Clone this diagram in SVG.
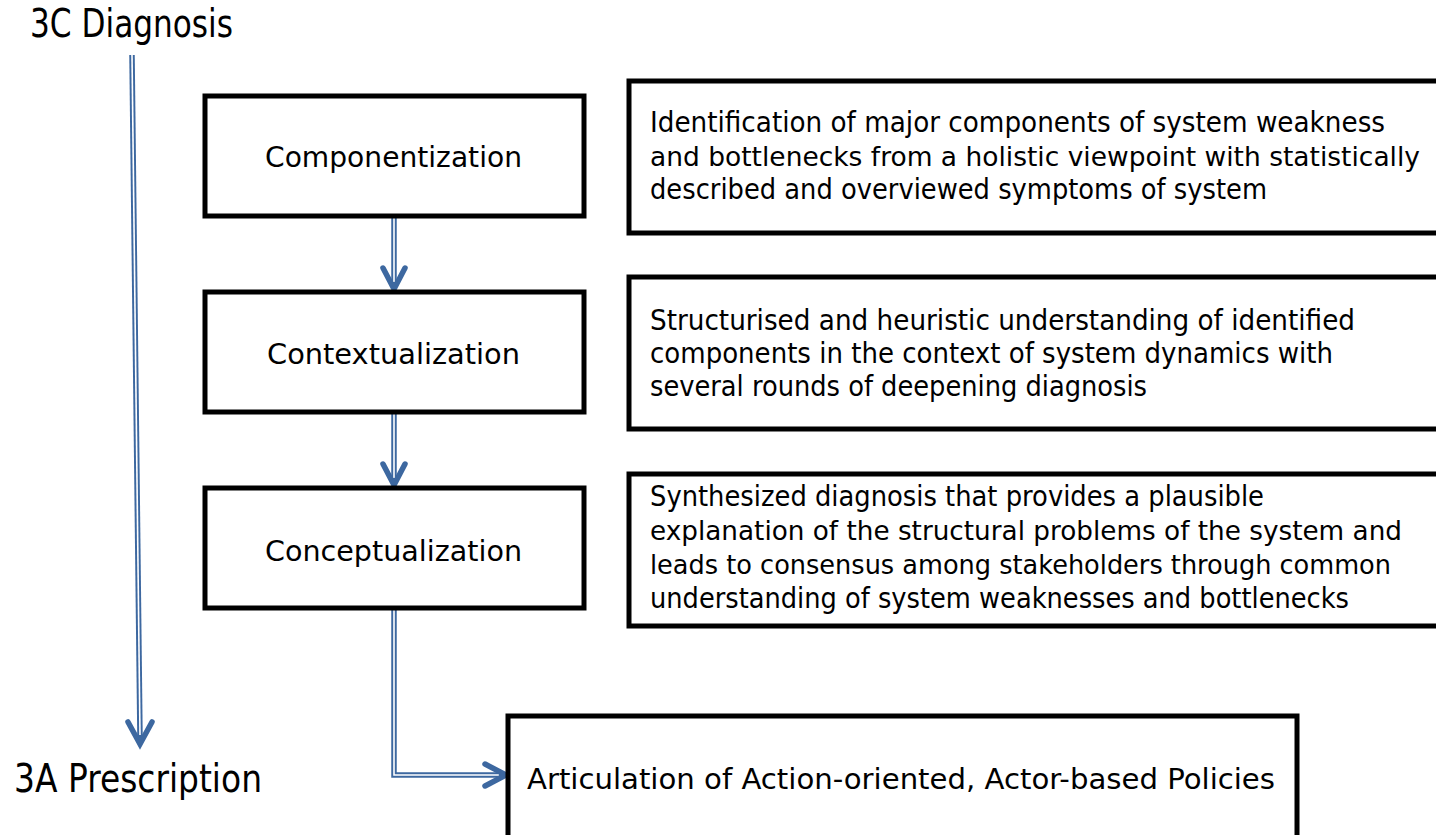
<svg xmlns="http://www.w3.org/2000/svg" width="1436" height="835" viewBox="0 0 1436 835">
<style>
.box{fill:#fff;stroke:#000;stroke-width:5}
.t{font-family:"DejaVu Sans","Liberation Sans",sans-serif;font-size:27.5px;fill:#000}
.d{font-family:"DejaVu Sans","Liberation Sans",sans-serif;font-size:26.5px;fill:#000}
.big{font-family:"DejaVu Sans","Liberation Sans",sans-serif;font-size:39px;fill:#000}
.shaft{fill:none;stroke:#3d68a0;stroke-width:5.5}
.inner{fill:none;stroke:#fff;stroke-width:1.6}
.head{fill:none;stroke:#3d68a0;stroke-width:5.5;stroke-linejoin:miter;stroke-linecap:round}
</style>
<rect width="1436" height="835" fill="#fff"/>
<g id="label-3c"><text class="big" x="30" y="37" textLength="203" lengthAdjust="spacingAndGlyphs">3C Diagnosis</text></g>
<g id="label-3a"><text class="big" x="14" y="792" textLength="248" lengthAdjust="spacingAndGlyphs">3A Prescription</text></g>

<g id="connectors">
  <path class="shaft" d="M132,55 L140,738"/>
  <path class="inner" d="M132,55 L140,735"/>
  <polyline class="head" points="128,722 140,744 152,722"/>

  <path class="shaft" d="M394,218 L394,286"/>
  <path class="inner" d="M394,218 L394,282"/>
  <polyline class="head" points="383,268 394,289 405,268"/>

  <path class="shaft" d="M394,414 L394,482"/>
  <path class="inner" d="M394,414 L394,478"/>
  <polyline class="head" points="383,464 394,485 405,464"/>

  <path class="shaft" d="M394,610 L394,775 L503,775"/>
  <path class="inner" d="M394,610 L394,775 L499,775"/>
  <polyline class="head" points="485,764 506,775 485,786"/>
</g>

<g id="componentization">
  <rect class="box" x="205" y="96" width="379" height="120"/>
  <text class="t" x="265" y="167" textLength="257" lengthAdjust="spacingAndGlyphs">Componentization</text>
</g>
<g id="contextualization">
  <rect class="box" x="205" y="292" width="379" height="120"/>
  <text class="t" x="267" y="364" textLength="253" lengthAdjust="spacingAndGlyphs">Contextualization</text>
</g>
<g id="conceptualization">
  <rect class="box" x="205" y="488" width="379" height="120"/>
  <text class="t" x="265" y="561" textLength="257" lengthAdjust="spacingAndGlyphs">Conceptualization</text>
</g>

<g id="desc-componentization">
  <rect class="box" x="629" y="81" width="810" height="152"/>
  <text class="t" x="650" y="132" textLength="735" lengthAdjust="spacingAndGlyphs">Identification of major components of system weakness</text>
  <text class="d" x="650" y="166" textLength="770" lengthAdjust="spacingAndGlyphs">and bottlenecks from a holistic viewpoint with statistically</text>
  <text class="t" x="650" y="199" textLength="617" lengthAdjust="spacingAndGlyphs">described and overviewed symptoms of system</text>
</g>
<g id="desc-contextualization">
  <rect class="box" x="629" y="277" width="810" height="152"/>
  <text class="t" x="650" y="330" textLength="705" lengthAdjust="spacingAndGlyphs">Structurised and heuristic understanding of identified</text>
  <text class="t" x="650" y="363" textLength="683" lengthAdjust="spacingAndGlyphs">components in the context of system dynamics with</text>
  <text class="t" x="650" y="396" textLength="497" lengthAdjust="spacingAndGlyphs">several rounds of deepening diagnosis</text>
</g>
<g id="desc-conceptualization">
  <rect class="box" x="629" y="474" width="810" height="152"/>
  <text class="t" x="650" y="506" textLength="614" lengthAdjust="spacingAndGlyphs">Synthesized diagnosis that provides a plausible</text>
  <text class="d" x="650" y="540" textLength="752" lengthAdjust="spacingAndGlyphs">explanation of the structural problems of the system and</text>
  <text class="d" x="650" y="574" textLength="741" lengthAdjust="spacingAndGlyphs">leads to consensus among stakeholders through common</text>
  <text class="t" x="650" y="608" textLength="699" lengthAdjust="spacingAndGlyphs">understanding of system weaknesses and bottlenecks</text>
</g>
<g id="articulation">
  <rect class="box" x="508" y="716" width="789" height="130"/>
  <text class="t" x="527" y="789" textLength="748" lengthAdjust="spacingAndGlyphs">Articulation of Action-oriented, Actor-based Policies</text>
</g>
</svg>
